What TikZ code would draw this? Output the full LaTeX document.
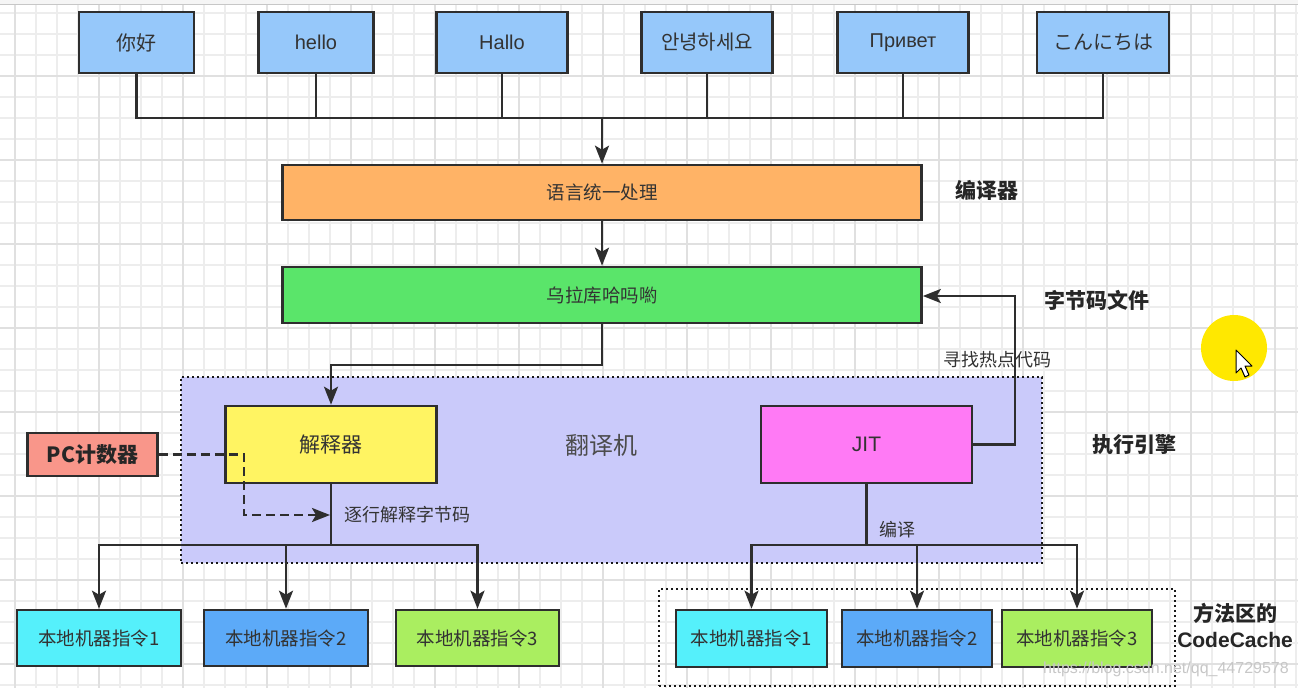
\documentclass[tikz,border=0pt]{standalone}
\usepackage{fontspec}
\setmainfont{Liberation Sans}
\newfontfamily\cjk{Noto Sans CJK SC}
\newfontfamily\krfont{Noto Sans CJK KR}
\newfontfamily\jpfont{Noto Sans CJK JP}
\usetikzlibrary{arrows.meta,calc}
\definecolor{strokec}{HTML}{2E2E2E}
\definecolor{txtc}{HTML}{333333}
\definecolor{gridminor}{HTML}{EDEDED}
\definecolor{gridmajor}{HTML}{E0E0E0}
\definecolor{topblue}{HTML}{96C8FA}
\definecolor{orangec}{HTML}{FFB366}
\definecolor{greenc}{HTML}{5AE56A}
\definecolor{lavc}{HTML}{CACAFA}
\definecolor{yellowbox}{HTML}{FFF462}
\definecolor{jitc}{HTML}{FF7AF5}
\definecolor{pcc}{HTML}{F9968A}
\definecolor{cyanc}{HTML}{55F0FB}
\definecolor{bluec}{HTML}{5CAAF8}
\definecolor{limec}{HTML}{AAEE60}
\definecolor{hilite}{HTML}{FFE800}
\begin{document}
\begin{tikzpicture}[x=1pt,y=-1pt,
  box/.style={draw=strokec, line width=2.6pt, inner sep=0pt, text=txtc,
    font=\cjk\fontsize{18.5}{21}\selectfont},
  topbox/.style={box, fill=topblue, minimum height=61pt, font=\cjk\fontsize{20}{23}\selectfont},
  bigbox/.style={box, minimum width=211pt, minimum height=77pt, font=\cjk\fontsize{21}{24}\selectfont},
  conn/.style={draw=strokec, line width=2.6pt},
  arr/.style={conn, -{Stealth[length=18pt,width=14pt,inset=4pt]}},
  dasharr/.style={conn, dash pattern=on 9pt off 5pt, -{Stealth[length=18pt,width=14pt,inset=4pt]}},
  dotbox/.style={draw=black!90, line width=2.4pt, dash pattern=on 2.4pt off 2.6pt},
  lbl/.style={text=txtc, inner sep=0pt, font=\cjk\fontsize{18}{21}\selectfont},
  boldlbl/.style={text=black!85, inner sep=0pt, font=\cjk\bfseries\fontsize{21}{26}\selectfont},
]
\useasboundingbox (0,0) rectangle (1298,688);
\fill[white] (0,0) rectangle (1298,688);
% grid
\foreach \k in {0,...,62} {
  \draw[gridminor, line width=1.2pt] ({-6+21*\k},4) -- ({-6+21*\k},688);
}
\foreach \k in {0,...,32} {
  \draw[gridminor, line width=1.2pt] (0,{13+21*\k}) -- (1298,{13+21*\k});
}
\foreach \k in {0,...,15} {
  \draw[gridmajor, line width=1.4pt] ({15+84*\k},4) -- ({15+84*\k},688);
}
\foreach \k in {0,...,7} {
  \draw[gridmajor, line width=1.4pt] (0,{76+84*\k}) -- (1298,{76+84*\k});
}
\fill[black!4] (0,0) rectangle (1298,4);
\draw[black!22, line width=1pt] (0,4) -- (1298,4);

% containers
\node[dotbox, fill=lavc, minimum width=861pt, minimum height=186pt, inner sep=0pt] (engine) at (611.5,470) {};
\node[dotbox, minimum width=516pt, minimum height=97pt, inner sep=0pt] (cache) at (917,637.5) {};

% top language boxes
\node[topbox, minimum width=115pt] (t1) at (136.5,42.5) {你好};
\node[topbox, minimum width=115pt] (t2) at (316,42.5) {\rmfamily hello};
\node[topbox, minimum width=131pt] (t3) at (502,42.5) {\rmfamily Hallo};
\node[topbox, minimum width=131pt] (t4) at (707,42.5) {\krfont 안녕하세요};
\node[topbox, minimum width=131pt] (t5) at (903,42.5) {\rmfamily Привет};
\node[topbox, minimum width=132pt] (t6) at (1103,42.5) {\jpfont こんにちは};

% main boxes
\node[box, fill=orangec, minimum width=639pt, minimum height=55pt] (front) at (602,192.5) {语言统一处理};
\node[box, fill=greenc, minimum width=639pt, minimum height=56pt] (bytec) at (602,295) {乌拉库哈吗喲};
\node[bigbox, fill=yellowbox] (interp) at (331,444.5) {解释器};
\node[bigbox, fill=jitc] (jit) at (866.5,444.5) {\rmfamily JIT};
\node[box, fill=pcc, minimum width=130pt, minimum height=43pt, font=\cjk\bfseries\fontsize{21}{24}\selectfont, text=black!85] (pc) at (92.5,454.5) {PC计数器};

% bottom boxes
\node[box, fill=cyanc, minimum width=164pt, minimum height=56pt] (b1) at (99,638) {本地机器指令1};
\node[box, fill=bluec, minimum width=164pt, minimum height=56pt] (b2) at (286,638) {本地机器指令2};
\node[box, fill=limec, minimum width=163pt, minimum height=56pt] (b3) at (477.5,638) {本地机器指令3};
\node[box, fill=cyanc, minimum width=151pt, minimum height=57pt] (r1) at (751.5,638.5) {本地机器指令1};
\node[box, fill=bluec, minimum width=150pt, minimum height=57pt] (r2) at (917,638.5) {本地机器指令2};
\node[box, fill=limec, minimum width=150pt, minimum height=57pt] (r3) at (1077,638.5) {本地机器指令3};

% connectors: top bus
\coordinate (bus) at (602,118);
\draw[conn] (t1.south) |- (t6.south |- bus) -- (t6.south);
\draw[conn] (t2.south) -- (t2.south |- bus);
\draw[conn] (t3.south) -- (t3.south |- bus);
\draw[conn] (t4.south) -- (t4.south |- bus);
\draw[conn] (t5.south) -- (t5.south |- bus);
\draw[arr] (bus) -- (front.north);
\draw[arr] (front.south) -- (bytec.north);

% bytecode to interpreter
\coordinate (gk) at (602,365);
\draw[arr] (bytec.south) -- (gk) -| (interp.north);

% JIT hot spot feedback
\coordinate (hk) at (1015,296);
\draw[arr] (jit.east) -| (hk) -- (bytec.east |- hk);

% interpreter fan-out
\coordinate (ib) at (331,545);
\draw[conn] (interp.south) -- (ib);
\draw[arr] (ib) -| (b1.north);
\draw[arr] (ib) -| (b3.north);
\draw[arr] (b2.north |- ib) -- (b2.north);

% JIT fan-out
\coordinate (jb) at (866.5,545);
\draw[conn] (jit.south) -- (jb);
\draw[arr] (jb) -| (r1.north);
\draw[arr] (jb) -| (r3.north);
\draw[arr] (r2.north |- jb) -- (r2.north);

% PC dashed
\coordinate (dc) at (244,515);
\coordinate (dt) at (330,515);
\draw[dasharr] (pc.east) -| (dc) -- (dt);

% labels
\node[lbl, anchor=west] (lzhu) at (344,515) {逐行解释字节码};
\node[lbl, anchor=west] (lbian) at (879,530) {编译};
\node[lbl] (lxun) at (997.5,360) {寻找热点代码};
\node[lbl, text=black!70, font=\cjk\fontsize{24}{28}\selectfont] (lfan) at (601,445) {翻译机};
\node[boldlbl, anchor=west] (lcomp) at (955,190) {编译器};
\node[boldlbl, anchor=west] (lbyte) at (1044,300) {字节码文件};
\node[boldlbl, anchor=west] (lexec) at (1092,445) {执行引擎};
\node[boldlbl, align=center, font=\cjk\bfseries\fontsize{21}{26}\selectfont] (lcc) at (1235,625) {方法区的\\\rmfamily\bfseries CodeCache};

% watermark
\node[text=black!22, inner sep=0pt, font=\rmfamily\fontsize{16}{18}\selectfont] (wm) at (1166,669) {https://blog.csdn.net/qq\_44729578};

% cursor highlight
\fill[hilite] (1234,348) circle (33pt);
\draw[black, line width=1pt, fill=white, line join=round]
  (1236,350) -- ++(0,23) -- ++(5,-5) -- ++(4,9) -- ++(4,-2) -- ++(-4,-9) -- ++(7,0) -- cycle;
\end{tikzpicture}
\end{document}
